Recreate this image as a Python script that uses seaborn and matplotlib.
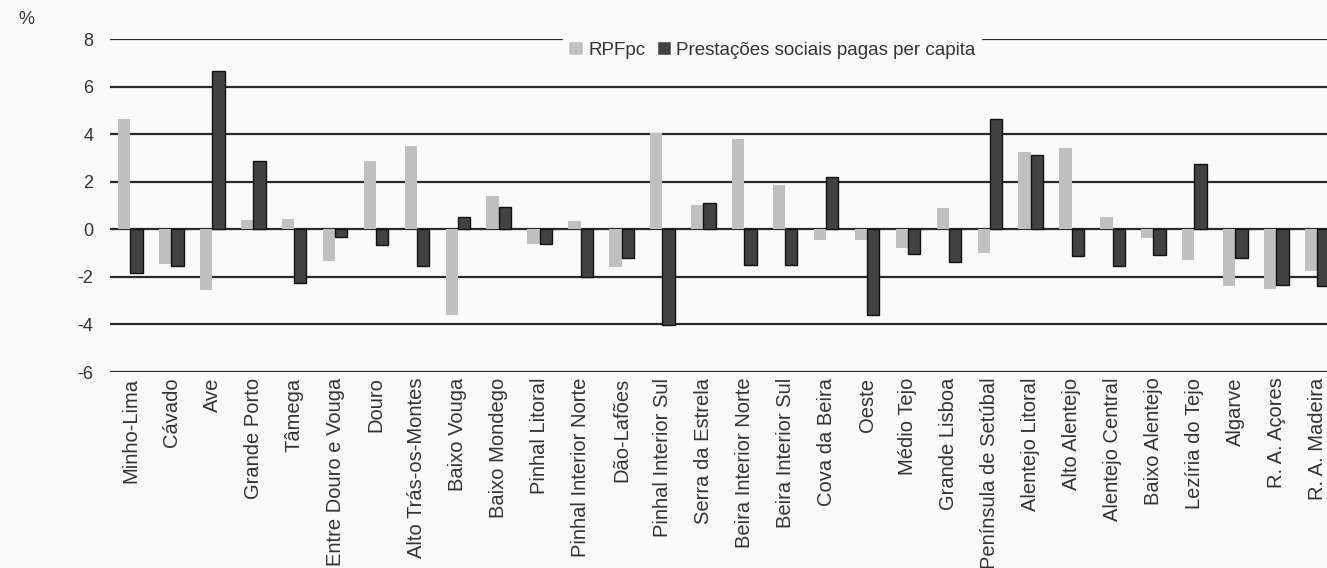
import pandas as pd
import numpy as np
import matplotlib.pyplot as plt
import seaborn as sns

regioes = ['Minho-Lima', 'Cávado', 'Ave', 'Grande Porto', 'Tâmega', 'Entre Douro e Vouga',
           'Douro', 'Alto Trás-os-Montes', 'Baixo Vouga', 'Baixo Mondego', 'Pinhal Litoral',
           'Pinhal Interior Norte', 'Dão-Lafões', 'Pinhal Interior Sul', 'Serra da Estrela',
           'Beira Interior Norte', 'Beira Interior Sul', 'Cova da Beira', 'Oeste', 'Médio Tejo',
           'Grande Lisboa', 'Península de Setúbal', 'Alentejo Litoral', 'Alto Alentejo',
           'Alentejo Central', 'Baixo Alentejo', 'Lezíria do Tejo', 'Algarve', 'R. A. Açores',
           'R. A. Madeira']

rpfpc = [4.63, -1.47, -2.54, 0.38, 0.45, -1.35, 2.89, 3.49, -3.59, 1.38, -0.63,
         0.34, -1.59, 4.06, 1.01, 3.80, 1.88, -0.44, -0.44, -0.77,
         0.91, -1.00, 3.26, 3.42, 0.53, -0.38, -1.29, -2.40, -2.50, -1.75]

prestacoes = [-1.84, -1.56, 6.64, 2.88, -2.26, -0.32, -0.67, -1.53, 0.51, 0.93, -0.63,
              -2.00, -1.21, -4.04, 1.12, -1.52, -1.50, 2.20, -3.59, -1.05,
              -1.38, 4.63, 3.14, -1.14, -1.54, -1.09, 2.75, -1.19, -2.36, -2.40]

series = ['RPFpc', 'Prestações sociais pagas per capita']

df = pd.DataFrame({
    'Regiao': regioes * 2,
    'Serie': [series[0]] * len(regioes) + [series[1]] * len(regioes),
    'Valor': rpfpc + prestacoes,
})

sns.set_theme(style='white')
plt.rcParams['font.family'] = ['Liberation Sans', 'DejaVu Sans']
plt.rcParams['axes.unicode_minus'] = False

fundo = '#fafafa'
fig = plt.figure(figsize=(13.27, 5.68), dpi=100, facecolor=fundo)
ax = fig.add_axes([110 / 1327, 1 - 372 / 568, (1327 - 110) / 1327, (372 - 39) / 568])
ax.set_facecolor(fundo)

sns.barplot(data=df, x='Regiao', y='Valor', hue='Serie', order=regioes,
            palette={series[0]: '#c0c0c0', series[1]: '#424242'},
            width=0.6, saturation=1, ax=ax)

# barras escuras com contorno preto
for barra in ax.containers[1]:
    barra.set_edgecolor('#111111')
    barra.set_linewidth(1.0)
for barra in ax.containers[0]:
    barra.set_linewidth(0)

ax.set_ylim(-6, 8)
ax.set_yticks(np.arange(-6, 9, 2))
ax.set_xlim(-0.5, 29.24)
ax.yaxis.grid(True, color='#2a2a2a', linewidth=1.6)
ax.set_axisbelow(True)
for s in ax.spines.values():
    s.set_visible(False)

ax.tick_params(axis='y', length=0, pad=12, labelsize=13, labelcolor='#333333')
ax.tick_params(axis='x', length=0, pad=4, labelsize=14.5, labelcolor='#333333')
plt.setp(ax.get_xticklabels(), rotation=90)
ax.set_xlabel('')
ax.set_ylabel('')

fig.text(18 / 1327, 1 - 20 / 568, '%', fontsize=13, color='#333333', va='center')

leg = ax.legend(loc='center', bbox_to_anchor=(0.544, 1 - 11 / 333), ncol=2,
                frameon=True, facecolor=fundo, edgecolor=fundo, framealpha=1,
                fontsize=13.5, handlelength=0.75, handleheight=0.75,
                handletextpad=0.3, columnspacing=0.6, borderpad=0.3)
for t in leg.get_texts():
    t.set_color('#333333')

fig.savefig('out.png', dpi=100, facecolor=fundo)
